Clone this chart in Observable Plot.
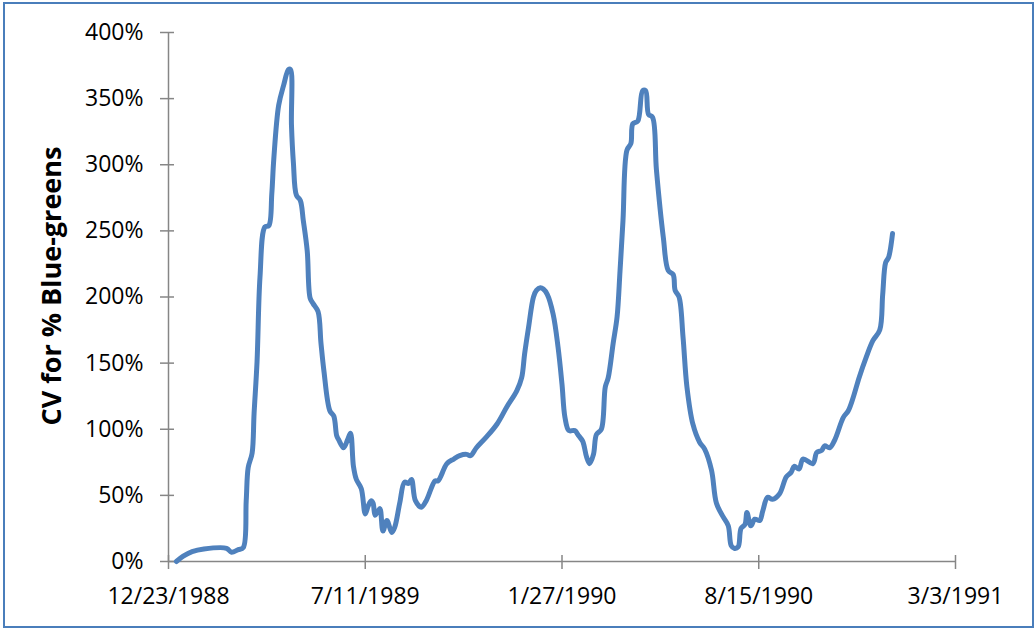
<!DOCTYPE html>
<html><head><meta charset="utf-8">
<script src="https://cdn.jsdelivr.net/npm/d3@7"></script>
<script src="https://cdn.jsdelivr.net/npm/@observablehq/plot@0.6"></script>
<style>
body{margin:0;background:#fff;}
#wrap{position:relative;width:1035px;height:629px;}
#border{position:absolute;left:3px;top:2px;width:1027px;height:622px;border:2px solid #4A7EBB;pointer-events:none;}
#wrap svg{position:absolute;left:0;top:0;}
</style></head><body>
<div id="wrap"><div id="border"></div></div>
<script>
const startDate = "1988-12-23";
const endDate = "1991-03-03";
const xTickDates = ["1988-12-23","1989-07-11","1990-01-27","1990-08-15","1991-03-03"];
const yTickValues = [0, 0.5, 1, 1.5, 2, 2.5, 3, 3.5, 4];
const yTitle = "CV for % Blue-greens";

// days since 12/23/1988
const dayOffsets = [8,15,24,36,59,64,71,76,79,81,85,87,90,93,98,102,105,107,112,117,122,124,125,127,130,134,137,141,144,147,152,155,158,164,168,171,173,178,182,185,188,191,196,200,203,206,208,210,213,215,218,222,227,230,235,240,244,247,251,257,262,271,274,283,290,296,303,307,313,323,334,344,354,359,362,366,371,374,378,381,385,391,396,400,403,407,413,417,421,425,428,432,435,440,444,447,452,456,459,462,466,470,472,477,482,485,488,492,496,503,508,513,515,519,523,527,533,540,545,552,557,564,569,572,575,579,582,586,588,592,596,601,604,609,614,621,628,633,636,641,645,655,659,664,667,672,677,686,691,696,702,709,716,723,726,729,732,736];
// CV in percent
const cvPercent = [0,4,7.5,9.5,10,7,9,10.5,46,71,82,112,151,215,253,254,278,304,345,360,372,372,330,301,277,273,258,235,199,195,189,165,144,114,110,95,92,86,92,97,72,62,55,36,42,46,44,35,38,40,23,31,22,26,44,60,59,62,46,41,46,61,61,74,77.5,80,81,80,86,94,104,117,129,139,157,177,200,205,207,206,202,187,162,134,109,99,99,95,91,79,74,81,96,100,132,139,165,185,220,258,311,316,331,333,356,356,338,336,296,245,220,217,205,200,170,132,104,90,85,69,44,33.5,27,12,10,11,25,28,37,27,32,31,38,48.5,47,51,64,67.5,72,70,77.5,74,82.5,84,87.5,86,91.5,109,114,124,139,154,167,175,202,226,230,248];

const base = new Date(startDate + "T00:00:00Z");
const data = dayOffsets.map((d, i) => ({date: new Date(base.getTime() + d * 864e5), value: cvPercent[i] / 100}));
const x0 = new Date(startDate + "T00:00:00Z");
const x1 = new Date(endDate + "T00:00:00Z");
const xTicks = xTickDates.map(s => new Date(s + "T00:00:00Z"));
const axisColor = "#868686";

const chart = Plot.plot({
  width: 1035, height: 629,
  marginLeft: 168, marginRight: 80, marginTop: 32, marginBottom: 68,
  style: {fontFamily: "'Open Sans', sans-serif", fontSize: "23px", color: "#000", background: "transparent"},
  x: {type: "utc", domain: [x0, x1]},
  y: {domain: [0, 4]},
  marks: [
    Plot.axisY({ticks: yTickValues, tickFormat: d3.format(".0%"), tickSize: 8, tickPadding: 17, stroke: axisColor, strokeWidth: 1.5, label: null}),
    Plot.axisY({ticks: yTickValues, tickFormat: () => "", tickSize: -6, stroke: axisColor, strokeWidth: 1.5, label: null}),
    Plot.axisX({ticks: xTicks, tickFormat: d3.utcFormat("%-m/%-d/%Y"), tickSize: 8, tickPadding: 18, stroke: axisColor, strokeWidth: 1.5, label: null}),
    Plot.axisX({ticks: xTicks, tickFormat: () => "", tickSize: -6, stroke: axisColor, strokeWidth: 1.5, label: null}),
    Plot.ruleX([x0], {stroke: axisColor, strokeWidth: 1.5}),
    Plot.ruleY([0], {stroke: axisColor, strokeWidth: 1.5}),
    Plot.line(data, {x: "date", y: "value", stroke: "#4F81BD", strokeWidth: 5, curve: "catmull-rom", strokeLinejoin: "round", strokeLinecap: "round"}),
    Plot.text([yTitle], {text: d => d, frameAnchor: "left", rotate: -90, dx: -116, dy: -11, fontWeight: "bold", fontSize: 27, lineAnchor: "middle", textAnchor: "middle", fill: "#000"})
  ]
});
document.getElementById("wrap").appendChild(chart);
</script>
</body></html>
